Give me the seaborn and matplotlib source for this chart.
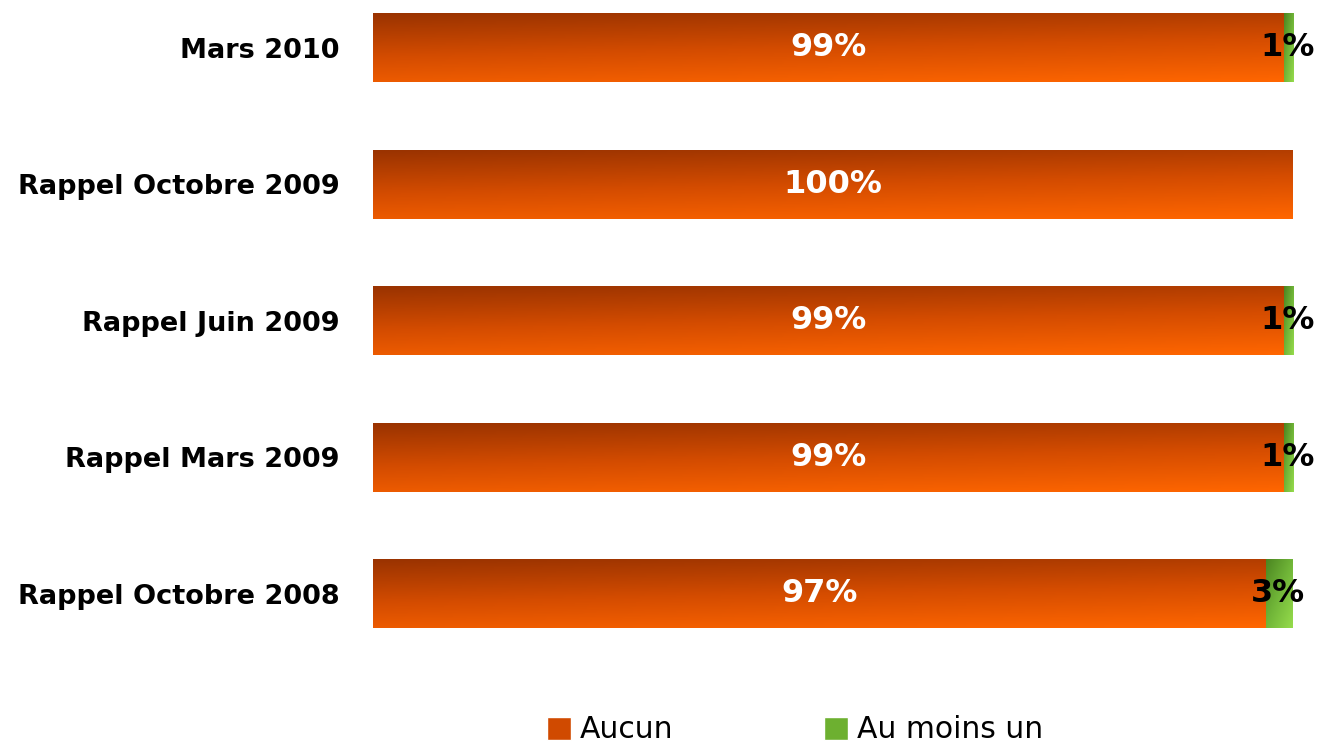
import matplotlib
matplotlib.use("Agg")
import matplotlib.pyplot as plt
from matplotlib.colors import LinearSegmentedColormap
from matplotlib.patches import Patch
import numpy as np
import pandas as pd
import seaborn as sns

categories = ["Mars 2010", "Rappel Octobre 2009", "Rappel Juin 2009",
              "Rappel Mars 2009", "Rappel Octobre 2008"]
aucun = [99, 100, 99, 99, 97]
au_moins_un = [1, 0, 1, 1, 3]

df = pd.DataFrame({"periode": categories, "aucun": aucun, "au_moins_un": au_moins_un})
df["total"] = df["aucun"] + df["au_moins_un"]

orange_cmap = LinearSegmentedColormap.from_list("org", ["#9A3300", "#D44C00", "#FF6600"])
green_cmap = LinearSegmentedColormap.from_list("grn", ["#4A8420", "#70B538", "#96DC4C"])

sns.set_style("white")
plt.rcParams['font.family'] = ['DejaVu Sans']

fig = plt.figure(figsize=(13.21, 7.47), dpi=100)
ax = fig.add_axes([373 / 1321, 0.15, 920 / 1321, 0.8406])

sns.barplot(data=df, x="total", y="periode", orient="h", width=0.5,
            color="#70B538", ax=ax, saturation=1)
sns.barplot(data=df, x="aucun", y="periode", orient="h", width=0.5,
            color="#D44C00", ax=ax, saturation=1)

# gradient fill: dark at top-left, bright at bottom-right
u = np.linspace(0, 1, 200)
v = np.linspace(0, 1, 50)
U, V = np.meshgrid(u, v)
grad_o = 0.78 * V + 0.22 * U
grad_g = 0.5 * V + 0.5 * U

n = len(categories)
for i, p in enumerate(list(ax.patches)):
    x0, y0 = p.get_x(), p.get_y()
    w, h = p.get_width(), p.get_height()
    if i < n:
        cmap, g = green_cmap, grad_g
        x0 = aucun[i]
        w = au_moins_un[i]
    else:
        cmap, g = orange_cmap, grad_o
    p.set_facecolor("none")
    p.set_edgecolor("none")
    if w <= 0:
        continue
    ax.imshow(g, cmap=cmap, vmin=0, vmax=1, aspect="auto",
              extent=(x0, x0 + w, y0 + h, y0), zorder=2)
ax.set_xlim(0, 100)
ax.set_ylim(4.3, -0.3)

for i, (a, b) in enumerate(zip(aucun, au_moins_un)):
    ax.text(a / 2, i, f"{a}%", ha="center", va="center", color="white",
            fontsize=23, fontweight="bold", zorder=5)
    if b > 0:
        ax.text(a + b / 2 - 0.1, i, f"{b}%", ha="center", va="center", color="black",
                fontsize=23, fontweight="bold", zorder=5)

ax.set_xlabel("")
ax.set_ylabel("")
ax.set_xticks([])
ax.tick_params(axis="y", length=0, pad=24)
for lbl in ax.get_yticklabels():
    lbl.set_fontsize(19.5)
    lbl.set_fontweight("bold")
    lbl.set_color("black")
sns.despine(ax=ax, left=True, bottom=True)

handles = [Patch(facecolor="#D04A00"), Patch(facecolor="#6DB030")]
fig.legend(handles, ["Aucun", "Au moins un"], loc="center",
           bbox_to_anchor=(795 / 1321, 1 - 730 / 747), ncol=2, frameon=False,
           fontsize=21.5, handlelength=0.8, handleheight=0.8, handletextpad=0.3,
           columnspacing=5.05, labelcolor="black", borderpad=0.2)

fig.savefig("out.png", dpi=100)
